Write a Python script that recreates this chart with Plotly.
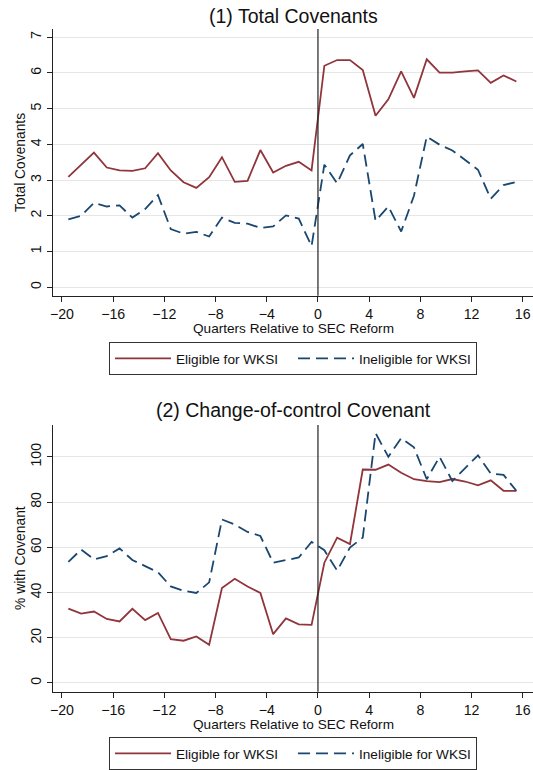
import plotly.graph_objects as go

quarters = [-19.5, -18.5, -17.5, -16.5, -15.5, -14.5, -13.5, -12.5, -11.5, -10.5,
            -9.5, -8.5, -7.5, -6.5, -5.5, -4.5, -3.5, -2.5, -1.5, -0.5,
            0.5, 1.5, 2.5, 3.5, 4.5, 5.5, 6.5, 7.5, 8.5, 9.5,
            10.5, 11.5, 12.5, 13.5, 14.5, 15.5]

total_eligible = [3.09, 3.42, 3.77, 3.35, 3.27, 3.26, 3.33, 3.75, 3.27, 2.94,
                  2.78, 3.08, 3.64, 2.95, 2.98, 3.84, 3.21, 3.40, 3.51, 3.27,
                  6.20, 6.36, 6.36, 6.08, 4.80, 5.26, 6.04, 5.30, 6.38, 6.01,
                  6.01, 6.04, 6.07, 5.72, 5.93, 5.76]
total_ineligible = [1.90, 2.00, 2.36, 2.26, 2.29, 1.95, 2.19, 2.58, 1.63, 1.50,
                    1.55, 1.42, 1.95, 1.80, 1.78, 1.66, 1.70, 2.01, 1.92, 1.15,
                    3.43, 2.91, 3.69, 4.01, 1.86, 2.26, 1.56, 2.56, 4.22, 3.99,
                    3.83, 3.57, 3.29, 2.48, 2.86, 2.95]

coc_eligible = [32.9, 30.7, 31.6, 28.3, 27.2, 32.8, 27.8, 31.0, 19.4, 18.7,
                20.6, 16.9, 42.0, 46.1, 42.7, 39.8, 21.6, 28.6, 25.9, 25.7,
                53.2, 64.3, 61.4, 94.4, 94.3, 96.6, 93.0, 90.1, 89.3, 88.8,
                90.2, 89.1, 87.4, 89.6, 85.0, 85.0]
coc_ineligible = [53.6, 59.0, 54.7, 56.1, 59.5, 54.4, 51.7, 49.0, 42.7, 40.8,
                  39.8, 44.5, 72.3, 70.1, 66.8, 65.0, 53.2, 54.5, 55.5, 62.4,
                  58.7, 49.7, 59.9, 64.3, 110.5, 100.0, 108.3, 104.2, 90.1, 100.0,
                  89.3, 95.0, 100.7, 92.6, 92.0, 85.0]

x_ticks = [-20, -16, -12, -8, -4, 0, 4, 8, 12, 16]
top_y_ticks = [0, 1, 2, 3, 4, 5, 6, 7]
bottom_y_ticks = [0, 20, 40, 60, 80, 100]

RED = "#90353B"
BLUE = "#1A476F"
FONT = "Liberation Sans, Arial, sans-serif"
W, H = 533, 770
LEFT = 53

fig = go.Figure()

fig.add_trace(go.Scatter(x=quarters, y=total_eligible, mode="lines", name="Eligible for WKSI",
                         line=dict(color=RED, width=1.8), xaxis="x", yaxis="y", legend="legend"))
fig.add_trace(go.Scatter(x=quarters, y=total_ineligible, mode="lines", name="Ineligible for WKSI",
                         line=dict(color=BLUE, width=1.8, dash="12px,6px"), xaxis="x", yaxis="y", legend="legend"))
fig.add_trace(go.Scatter(x=quarters, y=coc_eligible, mode="lines", name="Eligible for WKSI",
                         line=dict(color=RED, width=1.8), xaxis="x2", yaxis="y2", legend="legend2"))
fig.add_trace(go.Scatter(x=quarters, y=coc_ineligible, mode="lines", name="Ineligible for WKSI",
                         line=dict(color=BLUE, width=1.8, dash="12px,6px"), xaxis="x2", yaxis="y2", legend="legend2"))


def py(p):
    return 1 - p / H


def px(p):
    return (p - LEFT) / (W - LEFT)


axis_common = dict(showline=True, linecolor="#222", linewidth=1.2, ticks="outside",
                   ticklen=5, tickcolor="#222", tickfont=dict(family=FONT, size=14.2, color="#111"),
                   zeroline=False, automargin=False)

xa = dict(axis_common, range=[-20.7, 16.8], tickvals=x_ticks, showgrid=False)
fig.update_layout(
    xaxis=dict(xa, domain=[0, 1], anchor="y"),
    yaxis=dict(axis_common, domain=[py(299.3), py(29.3)], range=[-0.24, 7.23], tickvals=top_y_ticks,
               tickangle=-90, showgrid=True, gridcolor="#E6E6E6", gridwidth=1, anchor="x"),
    xaxis2=dict(xa, domain=[0, 1], anchor="y2"),
    yaxis2=dict(axis_common, domain=[py(700), py(430)], range=[-3.9, 114.1], tickvals=bottom_y_ticks,
                tickangle=-90, showgrid=True, gridcolor="#E6E6E6", gridwidth=1, anchor="x2"),
)

for xr, yr in (("x", "y"), ("x2", "y2")):
    fig.add_shape(type="line", xref=xr, yref=yr + " domain", x0=0, x1=0, y0=0, y1=1,
                  line=dict(color="#222", width=1.2))

xc = px(293)
ann = []
ann.append(dict(text="(1) Total Covenants", x=xc, y=py(16), font=dict(size=19.5)))
ann.append(dict(text="(2) Change-of-control Covenant", x=xc, y=py(415), font=dict(size=19.5)))
ann.append(dict(text="Quarters Relative to SEC Reform", x=xc, y=py(332), font=dict(size=13.6)))
ann.append(dict(text="Quarters Relative to SEC Reform", x=xc, y=py(733), font=dict(size=13.6)))
ann.append(dict(text="Total Covenants", x=px(20.5), y=py(164.3), textangle=-90, font=dict(size=13.8)))
ann.append(dict(text="% with Covenant", x=px(20.5), y=py(565), textangle=-90, font=dict(size=13.8)))
for a in ann:
    a.update(xref="paper", yref="paper", showarrow=False, xanchor="center", yanchor="middle",
             borderpad=0)
    a["font"].update(family=FONT, color="#111")
    fig.add_annotation(**a)

leg = dict(orientation="h", xanchor="center", yanchor="top", x=xc, bgcolor="white",
           bordercolor="#333", borderwidth=1, itemwidth=56, entrywidth=112,
           font=dict(family=FONT, size=13.6, color="#111"), tracegroupgap=0)
fig.update_layout(
    legend=dict(leg, y=py(346)),
    legend2=dict(leg, y=py(746)),
    width=W, height=H,
    margin=dict(l=LEFT, r=0, t=0, b=0),
    paper_bgcolor="white", plot_bgcolor="white",
    font=dict(family=FONT),
)

fig.write_html("out.html", config={"displayModeBar": False},
               post_script="document.body.style.margin='0';document.body.style.overflow='hidden';")
